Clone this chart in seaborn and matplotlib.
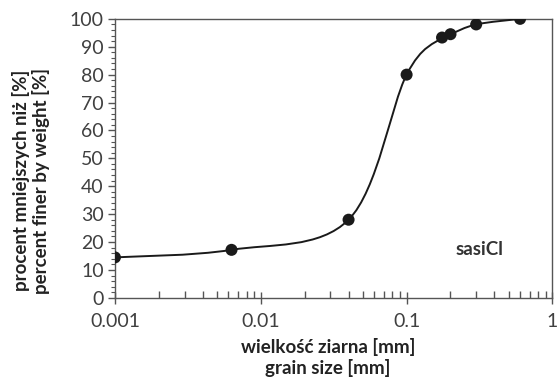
import numpy as np
import matplotlib
matplotlib.use("Agg")
import matplotlib.pyplot as plt
import seaborn as sb
from matplotlib.path import Path
from matplotlib.patches import PathPatch
from matplotlib.ticker import LogLocator, MultipleLocator, FixedFormatter, FixedLocator

# grain size distribution, sample sasiCl
grain_mm = [0.001, 0.0063, 0.04, 0.1, 0.175, 0.2, 0.3, 0.6]
pct_finer = [14.5, 17.2, 28.0, 80.0, 93.3, 94.5, 98.0, 100.0]
x_ticks = [0.001, 0.01, 0.1, 1]
x_ticklabels = ["0.001", "0.01", "0.1", "1"]

sb.set_style("white")
plt.rcParams['font.family'] = ['Lato', 'DejaVu Sans']
txt = '#404040'

fig = plt.figure(figsize=(5.58, 3.77), dpi=100)
ax = fig.add_axes([0.206, 0.21, 0.784, 0.74])
ax.set_xscale('log')
ax.set_xlim(0.001, 1)
ax.set_ylim(0, 100)

# smoothed line (Excel style bezier, built in log-x space)
lx = np.log10(grain_mm)
py = np.array(pct_finer)
# scale y so the tangents are computed in screen-like proportions
sx, sy = 437 / 3.0, 279 / 100.0
X, Y = lx * sx, py * sy
verts = [(X[0], Y[0])]
codes = [Path.MOVETO]
n = len(X)
for i in range(n - 1):
    p0 = (X[max(i - 1, 0)], Y[max(i - 1, 0)])
    p1 = (X[i], Y[i])
    p2 = (X[i + 1], Y[i + 1])
    p3 = (X[min(i + 2, n - 1)], Y[min(i + 2, n - 1)])
    c1 = (p1[0] + (p2[0] - p0[0]) / 6, p1[1] + (p2[1] - p0[1]) / 6)
    c2 = (p2[0] - (p3[0] - p1[0]) / 6, p2[1] - (p3[1] - p1[1]) / 6)
    verts += [c1, c2, p2]
    codes += [Path.CURVE4] * 3
verts = [(10 ** (vx / sx), vy / sy) for vx, vy in verts]
ax.add_patch(PathPatch(Path(verts, codes), fill=False, edgecolor='#1a1a1a', lw=1.4, zorder=3))

sb.scatterplot(x=grain_mm, y=pct_finer, ax=ax, color='#1a1a1a', s=75, edgecolor='none', zorder=4)

ax.xaxis.set_major_locator(FixedLocator(x_ticks))
ax.xaxis.set_major_formatter(FixedFormatter(x_ticklabels))
ax.xaxis.set_minor_locator(LogLocator(base=10, subs=np.arange(2, 10)))
ax.xaxis.set_minor_formatter(FixedFormatter([]))
ax.yaxis.set_major_locator(MultipleLocator(10))
ax.yaxis.set_minor_locator(MultipleLocator(2))

for sp in ax.spines.values():
    sp.set_color('#555555')
    sp.set_linewidth(1.0)

ax.tick_params(axis='x', which='major', direction='inout', length=8, width=1, color='#555555',
               labelsize=14, labelcolor=txt, pad=7)
ax.tick_params(axis='x', which='minor', direction='in', length=5, width=1, color='#555555')
ax.tick_params(axis='y', which='major', direction='out', length=5, width=1, color='#555555',
               labelsize=14, labelcolor=txt, pad=3, left=True)
ax.tick_params(axis='y', which='minor', direction='out', length=3, width=0.8, color='#555555', left=True)
ax.tick_params(axis='x', which='both', bottom=True)

ax.set_xlabel('wielkość ziarna [mm]\ngrain size [mm]', fontsize=13.5, fontweight='bold',
              color='#222222', linespacing=1.15)
ax.set_ylabel('procent mniejszych niż [%]\npercent finer by weight [%]', fontsize=13.5,
              fontweight='bold', color='#222222', linespacing=1.15)
ax.xaxis.set_label_coords(0.487, -0.145)
ax.yaxis.set_label_coords(-0.148, 0.42)
ax.text(0.779, 0.175, 'sasiCl', transform=ax.transAxes, fontsize=13.5, fontweight='bold',
        color='#333333', va='center', ha='left')

fig.savefig('out.png', dpi=100)
